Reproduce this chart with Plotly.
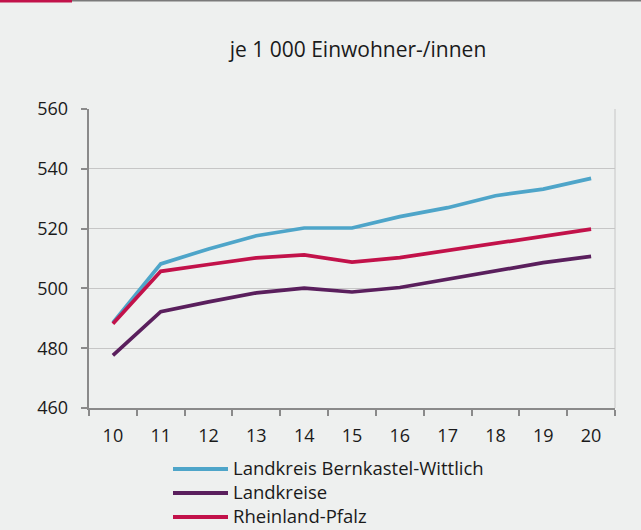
import plotly.graph_objects as go

years = ["10", "11", "12", "13", "14", "15", "16", "17", "18", "19", "20"]
bernkastel = [488.5, 508.2, 513.2, 517.6, 520.2, 520.2, 524.0, 527.0, 531.0, 533.2, 536.8]
landkreise = [477.6, 492.2, 495.5, 498.5, 500.1, 498.8, 500.3, 503.1, 505.8, 508.6, 510.7]
rlp = [488.2, 505.7, 508.0, 510.2, 511.2, 508.8, 510.3, 512.6, 515.0, 517.3, 519.8]

series_names = ["Landkreis Bernkastel-Wittlich", "Landkreise", "Rheinland-Pfalz"]
colors = ["#4ea5c9", "#5a1f5d", "#c2124a"]

W, H = 641, 530
ML, MR, MT, MB = 89, 26, 109, 122
PW, PH = W - ML - MR, H - MT - MB


def px_x(x):
    return (x - ML) / PW


def px_y(y):
    return (H - MB - y) / PH


fig = go.Figure()
for name, vals, col in zip(series_names, [bernkastel, landkreise, rlp], colors):
    fig.add_trace(go.Scatter(x=years, y=vals, name=name, mode="lines",
                             line=dict(color=col, width=3.7), showlegend=False))

bg = "#eef0ef"
fig.update_layout(
    width=W, height=H,
    paper_bgcolor=bg, plot_bgcolor=bg,
    margin=dict(l=ML, r=MR, t=MT, b=MB),
    font=dict(family="Open Sans, Noto Sans, sans-serif", size=18, color="#1a1a1a"),
    title=dict(text="je 1 000 Einwohner-/innen", x=358 / W, xanchor="center",
               y=1 - 50 / H, yanchor="middle", font=dict(size=21)),
    showlegend=False,
    xaxis=dict(type="category", tickson="boundaries", ticks="outside", ticklen=6,
               tickwidth=2, tickcolor="#8a8a8a", showline=True, linecolor="#8a8a8a",
               linewidth=2, showgrid=False, range=[-0.5, 10.5], zeroline=False,
               ticklabelstandoff=10),
    yaxis=dict(range=[460, 560], dtick=20, ticks="outside", ticklen=6, tickwidth=2,
               tickcolor="#8a8a8a", showline=True, linecolor="#8a8a8a", linewidth=2,
               showgrid=True, gridcolor="#c6c6c6", gridwidth=1, zeroline=False,
               ticksuffix="  "),
)

# right border of plot area
fig.add_shape(type="line", xref="paper", yref="paper", x0=1, x1=1, y0=0, y1=1,
              line=dict(color="#c6c6c6", width=1))
# top decoration bar
fig.add_shape(type="line", xref="paper", yref="paper",
              x0=px_x(0), x1=px_x(72), y0=px_y(1), y1=px_y(1),
              line=dict(color="#c2124a", width=3))
fig.add_shape(type="line", xref="paper", yref="paper",
              x0=px_x(72), x1=px_x(W), y0=px_y(0.5), y1=px_y(0.5),
              line=dict(color="#7a7a7a", width=2))

# legend
for i, (name, col) in enumerate(zip(series_names, colors)):
    yy = 467.5 + 24 * i
    fig.add_shape(type="line", xref="paper", yref="paper",
                  x0=px_x(173), x1=px_x(228), y0=px_y(yy + 1.5), y1=px_y(yy + 1.5),
                  line=dict(color=col, width=4))
    fig.add_annotation(text=name, xref="paper", yref="paper", x=px_x(231), y=px_y(yy),
                       xanchor="left", yanchor="middle", showarrow=False,
                       font=dict(size=18.5, color="#1a1a1a"))

fig.write_html("out.html", config={"displayModeBar": False},
               post_script="document.body.style.margin='0';document.body.style.overflow='hidden';")
